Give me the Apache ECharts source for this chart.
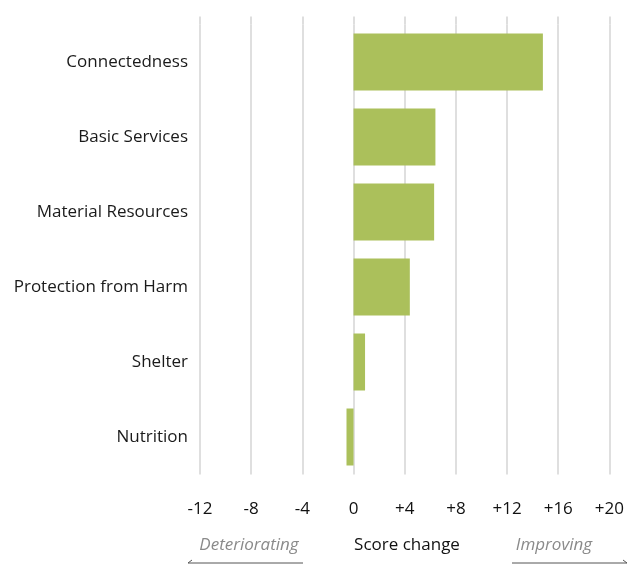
<!DOCTYPE html>
<html>
<head>
<meta charset="utf-8">
<script src="https://cdn.jsdelivr.net/npm/echarts@6/dist/echarts.min.js"></script>
<style>
  html, body { margin: 0; padding: 0; background: #fff; }
  #container { width: 627px; height: 565px; }
</style>
</head>
<body>
<div id="container"></div>
<script>
(function () {
    let categories = ['Connectedness', 'Basic Services', 'Material Resources', 'Protection from Harm', 'Shelter', 'Nutrition'];
    let scores = [14.8, 6.4, 6.3, 4.4, 0.9, -0.55];

    let font = '"Open Sans", "Noto Sans", sans-serif';
    let grid_color = '#d4d4d4';
    let bar_color = '#abc05b';

    let dom = document.getElementById('container');
    let myChart = echarts.init(dom);

    let option = {
        animation: false,
        grid: { left: 200, right: 16, top: 24.5, bottom: 90.5, containLabel: false },
        xAxis: [
            {
                type: 'value',
                min: -12,
                max: 20,
                interval: 4,
                axisLine: { show: false },
                axisTick: { show: false },
                splitLine: { show: true, lineStyle: { color: grid_color, width: 1.5 } },
                axisLabel: {
                    margin: 26,
                    color: '#111',
                    fontSize: 17,
                    fontFamily: font,
                    formatter: function (v) { return v > 0 ? '+' + v : String(v); }
                }
            },
            {
                type: 'value',
                position: 'top',
                min: -12,
                max: 20,
                interval: 4,
                axisLine: { show: false },
                axisTick: { show: true, length: 8, lineStyle: { color: grid_color, width: 1.5 } },
                splitLine: { show: false },
                axisLabel: { show: false }
            }
        ],
        yAxis: {
            type: 'category',
            data: categories,
            inverse: true,
            axisLine: { show: false },
            axisTick: { show: false },
            axisLabel: { margin: 12, color: '#1a1a1a', fontSize: 17, fontFamily: font, padding: [6, 0, 0, 0] }
        },
        series: [
            {
                type: 'bar',
                data: scores,
                barWidth: 57,
                itemStyle: { color: bar_color }
            }
        ],
        graphic: [
            {
                type: 'text', x: 407, y: 545,
                style: { text: 'Score change', fill: '#111', font: '17px ' + font, align: 'center', verticalAlign: 'middle' }
            },
            {
                type: 'text', x: 249, y: 545,
                style: { text: 'Deteriorating', fill: '#8a8a8a', font: 'italic 17px ' + font, align: 'center', verticalAlign: 'middle' }
            },
            {
                type: 'text', x: 554, y: 545,
                style: { text: 'Improving', fill: '#8a8a8a', font: 'italic 17px ' + font, align: 'center', verticalAlign: 'middle' }
            },
            {
                type: 'polyline',
                shape: { points: [[192, 560], [188, 563], [303, 563]] },
                style: { stroke: '#555', lineWidth: 1, fill: null }
            },
            {
                type: 'polyline',
                shape: { points: [[512, 563], [627, 563], [623, 560]] },
                style: { stroke: '#555', lineWidth: 1, fill: null }
            }
        ]
    };
    myChart.setOption(option);
})();
</script>
</body>
</html>
